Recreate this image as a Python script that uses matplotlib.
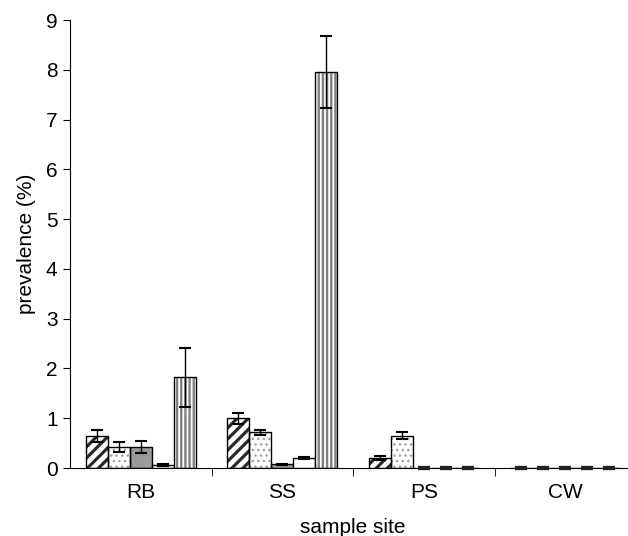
import numpy as np
import matplotlib
matplotlib.use('Agg')
import matplotlib.pyplot as plt

plt.rcParams['font.family'] = ['Liberation Sans', 'DejaVu Sans']

# --- Data ---
sites = ['RB', 'SS', 'PS', 'CW']
s1 = [0.65, 1.00, 0.20, 0.0]
s2 = [0.43, 0.72, 0.65, 0.0]
s3 = [0.43, 0.08, 0.0, 0.0]
s4 = [0.07, 0.20, 0.0, 0.0]
s5 = [1.82, 7.95, 0.0, 0.0]
e1 = [0.12, 0.11, 0.04, 0.0]
e2 = [0.10, 0.05, 0.07, 0.0]
e3 = [0.12, 0.01, 0.0, 0.0]
e4 = [0.02, 0.02, 0.0, 0.0]
e5 = [0.60, 0.72, 0.0, 0.0]

values = [s1, s2, s3, s4, s5]
errors = [e1, e2, e3, e4, e5]
# (fill, hatch, hatch colour, hatch width)
styles = [
    ('white', '///', '#2a2a2a', 2.3),
    ('white', '...', '#a0a0a0', 1.0),
    ('#9a9a9a', None, None, None),
    ('white', None, None, None),
    ('white', '||||', '#808080', 1.7),
]

fig = plt.figure(figsize=(6.28, 5.36), dpi=100)
ax = fig.add_axes([70/628, 68/536, 566/628, 448/536])

x = np.arange(len(sites)) + 0.5
w = 0.156
for k, (vals, errs, (fc, hatch, hc, hw)) in enumerate(zip(values, errors, styles)):
    pos = x + (k - 2) * w
    if hatch:
        plt.rcParams['hatch.linewidth'] = hw
        ax.bar(pos, vals, w, color=fc, edgecolor=hc, hatch=hatch, linewidth=0, zorder=2)
        ax.bar(pos, vals, w, fill=False, edgecolor='black', linewidth=1, zorder=3)
    else:
        ax.bar(pos, vals, w, color=fc, edgecolor='black', linewidth=1, zorder=2)
    ax.errorbar(pos, vals, yerr=errs, fmt='none', ecolor='black', elinewidth=1,
                capsize=4.5, capthick=1.5, zorder=4)
    # zero bars show as small dark dashes on the axis
    zero = [p for p, v in zip(pos, vals) if v == 0]
    ax.errorbar(zero, [0] * len(zero), yerr=0, fmt='none', ecolor='#222222',
                capsize=4.5, capthick=3, zorder=5, clip_on=False)

ax.set_xlim(0, 4)
ax.set_ylim(0, 9)
ax.set_yticks(range(10))
ax.set_xticks(x)
ax.set_xticklabels(sites)
ax.set_xticks(np.arange(1, 4), minor=True)
ax.tick_params(axis='x', which='major', length=0, pad=11, labelsize=15)
ax.tick_params(axis='x', which='minor', length=6, direction='out')
ax.tick_params(axis='y', length=5, pad=4, labelsize=15)
for side in ['top', 'right']:
    ax.spines[side].set_visible(False)
ax.set_ylabel('prevalence (%)', fontsize=15, labelpad=7)
ax.set_xlabel('sample site', fontsize=15, labelpad=11)

fig.savefig('out.png', dpi=100)
